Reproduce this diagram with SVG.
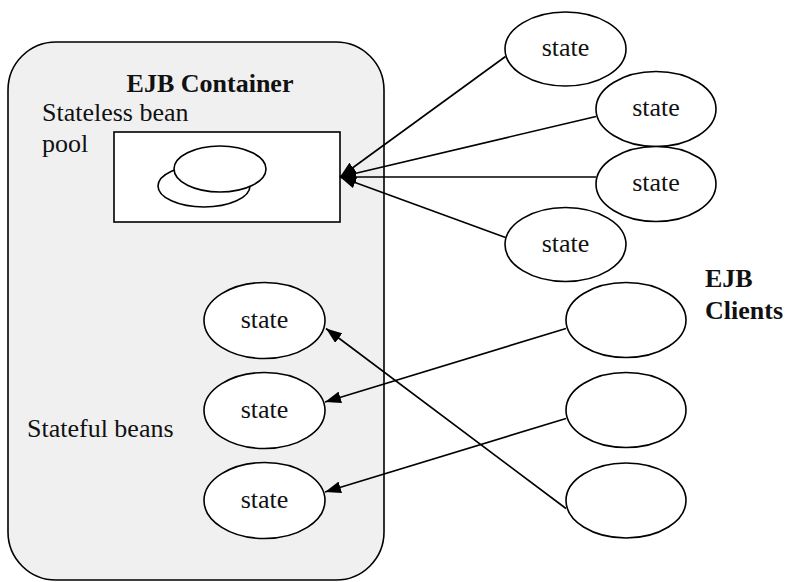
<svg xmlns="http://www.w3.org/2000/svg" width="788" height="582" viewBox="0 0 788 582" font-family="Liberation Serif" font-size="26">
<defs>
  <marker id="arr" viewBox="0 0 16 12" refX="16" refY="6" markerWidth="16" markerHeight="12" markerUnits="userSpaceOnUse" orient="auto">
    <path d="M0,0 L16,6 L0,12 z" fill="#000"/>
  </marker>
</defs>

<g id="container">
  <rect x="8" y="42" width="376" height="538" rx="48" ry="48" fill="#f0f0f0" stroke="#000" stroke-width="1.6"/>
  <text font-weight="bold" text-anchor="middle" fill="#111" x="210" y="92">EJB Container</text>
  <text fill="#111" x="42" y="121">Stateless bean</text>
  <text fill="#111" x="42" y="152">pool</text>
  <text fill="#111" x="27" y="437">Stateful beans</text>
</g>

<g id="pool" fill="#fff" stroke="#000" stroke-width="1.6">
  <rect x="114" y="132" width="226" height="90"/>
  <ellipse cx="204" cy="186" rx="46" ry="21"/>
  <ellipse cx="220" cy="169" rx="46" ry="23"/>
</g>

<g id="bean1"><ellipse cx="264.5" cy="320.5" rx="60.5" ry="38" fill="#fff" stroke="#000" stroke-width="1.6"/><text text-anchor="middle" fill="#111" x="264.5" y="328">state</text></g>
<g id="bean2"><ellipse cx="264.5" cy="410.5" rx="60.5" ry="38" fill="#fff" stroke="#000" stroke-width="1.6"/><text text-anchor="middle" fill="#111" x="264.5" y="418">state</text></g>
<g id="bean3"><ellipse cx="264.5" cy="500.5" rx="60.5" ry="38" fill="#fff" stroke="#000" stroke-width="1.6"/><text text-anchor="middle" fill="#111" x="264.5" y="508">state</text></g>

<g id="client-s1"><ellipse cx="565.5" cy="49" rx="60.5" ry="37" fill="#fff" stroke="#000" stroke-width="1.6"/><text text-anchor="middle" fill="#111" x="565.5" y="56">state</text></g>
<g id="client-s2"><ellipse cx="656" cy="109" rx="60" ry="37.5" fill="#fff" stroke="#000" stroke-width="1.6"/><text text-anchor="middle" fill="#111" x="656" y="116">state</text></g>
<g id="client-s3"><ellipse cx="656" cy="184" rx="60" ry="37.5" fill="#fff" stroke="#000" stroke-width="1.6"/><text text-anchor="middle" fill="#111" x="656" y="191">state</text></g>
<g id="client-s4"><ellipse cx="565.5" cy="244.5" rx="60.5" ry="37" fill="#fff" stroke="#000" stroke-width="1.6"/><text text-anchor="middle" fill="#111" x="565.5" y="251.5">state</text></g>

<g id="client1"><ellipse cx="626" cy="320" rx="60" ry="37.5" fill="#fff" stroke="#000" stroke-width="1.6"/></g>
<g id="client2"><ellipse cx="626" cy="410" rx="60" ry="37.5" fill="#fff" stroke="#000" stroke-width="1.6"/></g>
<g id="client3"><ellipse cx="626" cy="500.5" rx="60" ry="37.5" fill="#fff" stroke="#000" stroke-width="1.6"/></g>

<g id="clients-label">
  <text font-weight="bold" fill="#111" x="705" y="287">EJB</text>
  <text font-weight="bold" fill="#111" x="705" y="319">Clients</text>
</g>

<g id="connectors" fill="none" stroke="#000" stroke-width="1.6">
  <line x1="505.5" y1="56.5" x2="340" y2="177" marker-end="url(#arr)"/>
  <line x1="596" y1="116.5" x2="340" y2="177" marker-end="url(#arr)"/>
  <line x1="596" y1="177" x2="340" y2="177" marker-end="url(#arr)"/>
  <line x1="505.5" y1="237.5" x2="340" y2="177" marker-end="url(#arr)"/>
  <line x1="566" y1="328.5" x2="325" y2="402" marker-end="url(#arr)"/>
  <line x1="566" y1="418.5" x2="325" y2="492" marker-end="url(#arr)"/>
  <line x1="566" y1="508.5" x2="326" y2="328.5" marker-end="url(#arr)"/>
</g>
</svg>
